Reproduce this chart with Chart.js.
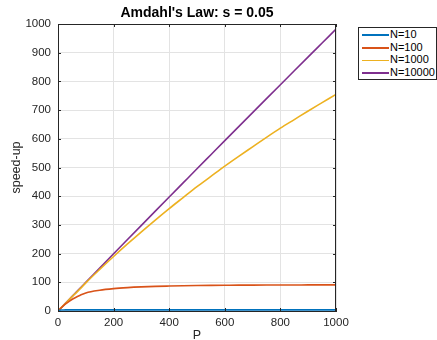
<!DOCTYPE html>
<html>
<head>
<meta charset="utf-8">
<script src="https://cdn.jsdelivr.net/npm/chart.js@4.4.1/dist/chart.umd.min.js"></script>
<style>
  html, body { margin: 0; padding: 0; background: #ffffff; }
  #wrap { position: relative; width: 437px; height: 340px; overflow: hidden; }
  #c { position: absolute; left: 0; top: 0; }
  #legend { position: absolute; left: 358px; top: 27px; width: 79px; height: 53px; box-sizing: border-box;
            border: 1px solid #262626; background: #fff; font-family: "Liberation Sans", Arial, sans-serif;
            font-size: 11px; color: #000; }
  .row { height: 12.7px; line-height: 12.7px; white-space: nowrap; }
  .swatch { display: inline-block; width: 27px; height: 1.5px; margin-left: 3px; margin-right: 1px; vertical-align: middle; }
</style>
</head>
<body>
<div id="wrap">
  <canvas id="c" width="437" height="340"></canvas>
  <div id="legend"></div>
</div>
<script>
// ---- data ----
const P = [0, 10, 20, 30, 40, 50, 60, 80, 100, 150, 200, 250, 300, 350, 400, 450, 500,
           550, 600, 650, 700, 750, 800, 850, 900, 950, 1000];
const speedN10 = [0, 3.4, 3.7, 3.8, 3.9, 3.9, 3.9, 4, 4, 4, 4, 4, 4, 4, 4, 4, 4,
                  4, 4, 4, 4, 4, 4, 4, 4, 4, 4];
const speedN100 = [0, 9.6, 18.5, 26.5, 33.5, 40, 45.5, 55, 63, 72.5, 78, 81.5, 84, 85.8, 87, 88, 88.7,
                   89.2, 89.6, 90, 90.3, 90.5, 90.7, 90.8, 90.9, 91, 91];
const speedN1000 = [0, 10, 20, 29.7, 39.5, 49.2, 58.8, 77.8, 98, 144.8, 190, 233.6, 276, 317, 357, 395, 433,
                    469, 505, 539, 572, 605, 637, 667, 697, 726, 755];
const speedN10000 = [0, 10, 20, 30, 40, 50, 60, 80, 99.8, 149.6, 199.3, 248.9, 298.4, 347.8, 397.1, 446.3, 495.5,
                     544.5, 593.5, 642.4, 691.2, 739.9, 788.5, 837, 885.4, 933.7, 982];
const seriesNames = ['N=10', 'N=100', 'N=1000', 'N=10000'];
const xTicks = [0, 200, 400, 600, 800, 1000];
const yTicks = [0, 100, 200, 300, 400, 500, 600, 700, 800, 900, 1000];
const chartTitle = "Amdahl's Law: s = 0.05";
const xLabel = 'P';
const yLabel = 'speed-up';

// ---- styling ----
const colors = ['#0072BD', '#D95319', '#EDB120', '#7E2F8E'];
const allSeries = [speedN10, speedN100, speedN1000, speedN10000];
const FONT = '"Liberation Sans", Arial, Helvetica, sans-serif';
const AX = '#262626';

const datasets = allSeries.map((vals, i) => ({
  label: seriesNames[i],
  data: P.map((p, j) => ({ x: p, y: vals[j] })),
  borderColor: colors[i],
  backgroundColor: colors[i],
  borderWidth: 1.6,
  pointRadius: 0,
  fill: false,
  cubicInterpolationMode: 'monotone'
}));

const boxPlugin = {
  id: 'boxTicks',
  afterDraw(chart) {
    const { ctx, chartArea: a, scales: { x, y } } = chart;
    ctx.save();
    ctx.strokeStyle = AX;
    ctx.lineWidth = 1;
    ctx.beginPath();
    ctx.moveTo(a.left, Math.round(a.top) + 0.5);
    ctx.lineTo(a.right, Math.round(a.top) + 0.5);
    ctx.moveTo(Math.round(a.right) - 0.5, a.top);
    ctx.lineTo(Math.round(a.right) - 0.5, a.bottom);
    const L = 3;
    xTicks.forEach(v => {
      const px = Math.round(x.getPixelForValue(v)) + 0.5;
      ctx.moveTo(px, a.bottom); ctx.lineTo(px, a.bottom - L);
      ctx.moveTo(px, a.top); ctx.lineTo(px, a.top + L);
    });
    yTicks.forEach(v => {
      const py = Math.round(y.getPixelForValue(v)) + 0.5;
      ctx.moveTo(a.left, py); ctx.lineTo(a.left + L, py);
      ctx.moveTo(a.right, py); ctx.lineTo(a.right - L, py);
    });
    ctx.stroke();
    ctx.restore();
  }
};

new Chart(document.getElementById('c'), {
  type: 'line',
  data: { datasets },
  plugins: [boxPlugin],
  options: {
    responsive: false,
    animation: false,
    devicePixelRatio: 1,
    layout: { padding: { left: 0, right: 101, top: 0, bottom: 0 } },
    plugins: {
      legend: { display: false },
      tooltip: { enabled: false },
      title: {
        display: true,
        text: chartTitle,
        fullSize: false,
        color: '#000',
        font: { family: FONT, size: 14, weight: 'bold' },
        padding: { top: 4.5, bottom: 2.7 }
      }
    },
    scales: {
      x: {
        type: 'linear',
        min: 0, max: 1000,
        afterBuildTicks: s => { s.ticks = xTicks.map(v => ({ value: v })); },
        afterFit: s => { s.height = 29; },
        grid: { color: '#e3e3e3', lineWidth: 1, drawTicks: false },
        border: { display: true, color: AX, width: 1 },
        ticks: { color: AX, font: { family: FONT, size: 11.5 }, padding: 5, maxRotation: 0, callback: v => String(v) },
        title: { display: true, text: xLabel, color: AX, font: { family: FONT, size: 12.5 }, padding: { top: 0, bottom: -3 } }
      },
      y: {
        type: 'linear',
        min: 0, max: 1000,
        afterBuildTicks: s => { s.ticks = yTicks.map(v => ({ value: v })); },
        afterFit: s => { s.width = 58; },
        grid: { color: '#e3e3e3', lineWidth: 1, drawTicks: false },
        border: { display: true, color: AX, width: 1 },
        ticks: { color: AX, font: { family: FONT, size: 11.5 }, padding: 7, callback: v => String(v) },
        title: { display: true, text: yLabel, color: AX, font: { family: FONT, size: 12.5 }, padding: { top: 9, bottom: 0 } }
      }
    }
  }
});

// legend built from the series names/colours
const leg = document.getElementById('legend');
seriesNames.forEach((name, i) => {
  const row = document.createElement('div');
  row.className = 'row';
  const sw = document.createElement('span');
  sw.className = 'swatch';
  sw.style.background = colors[i];
  row.appendChild(sw);
  row.appendChild(document.createTextNode(name));
  leg.appendChild(row);
});
</script>
</body>
</html>
